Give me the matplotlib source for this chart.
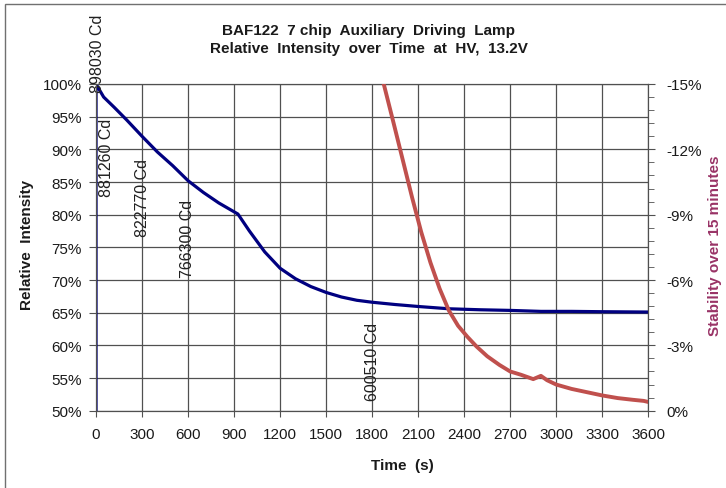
import matplotlib
matplotlib.use("Agg")
import matplotlib.pyplot as plt
from matplotlib.patches import Rectangle
from matplotlib.ticker import FuncFormatter, MultipleLocator

# relative intensity (%) over time (s)
time_int = [0, 0, 50, 120, 200, 300, 400, 500, 600, 700, 800, 925, 1000, 1100, 1200, 1300,
            1400, 1500, 1600, 1700, 1800, 1950, 2100, 2300, 2500, 2700, 2900, 3100, 3300, 3600]
intensity = [50, 100, 98.0, 96.4, 94.5, 92.0, 89.6, 87.5, 85.2, 83.4, 81.8, 80.1, 77.5, 74.3, 71.8, 70.2,
             69.0, 68.1, 67.4, 66.9, 66.6, 66.25, 65.95, 65.6, 65.45, 65.35, 65.2, 65.2, 65.15, 65.1]

# stability over 15 minutes (%)
time_stab = [1872, 1940, 2000, 2060, 2120, 2180, 2240, 2300, 2360, 2420, 2480, 2550, 2630,
             2700, 2770, 2850, 2900, 2940, 3000, 3100, 3200, 3300, 3400, 3500, 3570, 3600]
stability = [-15.1, -13.2, -11.5, -9.8, -8.2, -6.8, -5.6, -4.6, -3.9, -3.4, -2.95, -2.5, -2.1,
             -1.8, -1.65, -1.45, -1.6, -1.4, -1.2, -1.0, -0.85, -0.7, -0.58, -0.5, -0.45, -0.4]

# candela labels
cd_x = [10, 67, 300, 594, 1800]
cd_y = [98.8, 82.9, 76.7, 70.5, 51.7]
cd_text = ["898030 Cd", "881260 Cd", "822770 Cd", "766300 Cd", "600510 Cd"]

plt.rcParams['font.family'] = ['Liberation Sans', 'DejaVu Sans']
TXT = '#1a1a1a'
GRID = '#505050'

fig = plt.figure(figsize=(7.26, 4.89), dpi=100)
ax = fig.add_axes([96 / 726, 1 - 411.7 / 489, 552.3 / 726, 326.7 / 489])

ax.plot(time_int, intensity, color='#000080', lw=2.3, solid_joinstyle='round', zorder=3)
ax.set_xlim(0, 3600)
ax.set_ylim(50, 100)
ax.xaxis.set_major_locator(MultipleLocator(300))
ax.yaxis.set_major_locator(MultipleLocator(5))
ax.yaxis.set_major_formatter(FuncFormatter(lambda v, p: f"{v:.0f}%"))
ax.grid(True, color=GRID, lw=0.9)
ax.set_axisbelow(True)
ax.tick_params(axis='both', labelsize=11, labelcolor=TXT, color=GRID, direction='out')
ax.tick_params(axis='y', length=5, pad=5)
ax.tick_params(axis='x', length=4, pad=8)
for s in ax.spines.values():
    s.set_color(GRID)

for x, y, t in zip(cd_x, cd_y, cd_text):
    ax.text(x, y, t, rotation=90, ha='center', va='bottom', fontsize=11.5,
            color='#202020', clip_on=False, zorder=4)

ax2 = ax.twinx()
ax2.plot(time_stab, stability, color='#C0504D', lw=2.8, solid_joinstyle='round', zorder=3)
ax2.set_ylim(0, -15)
ax2.yaxis.set_major_locator(MultipleLocator(3))
ax2.yaxis.set_minor_locator(MultipleLocator(0.6))
ax2.yaxis.set_major_formatter(FuncFormatter(lambda v, p: f"{v:.0f}%"))
ax2.tick_params(axis='y', which='major', labelsize=11, labelcolor=TXT, color=GRID,
                direction='out', length=5, pad=8)
ax2.tick_params(axis='y', which='minor', color=GRID, direction='out', length=4)
for s in ax2.spines.values():
    s.set_color(GRID)

fig.text(369 / 726, 1 - 40 / 489, "BAF122  7 chip  Auxiliary  Driving  Lamp\nRelative  Intensity  over  Time  at  HV,  13.2V",
         ha='center', va='center', fontsize=11, fontweight='bold', color=TXT, linespacing=1.45)
fig.text(402 / 726, 1 - 466 / 489, "Time  (s)", ha='center', va='center',
         fontsize=11, fontweight='bold', color=TXT)
fig.text(27 / 726, 1 - 245 / 489, "Relative  Intensity", ha='center', va='center', rotation=90,
         fontsize=11, fontweight='bold', color=TXT)
fig.text(715 / 726, 1 - 246 / 489, "Stability over 15 minutes", ha='center', va='center',
         rotation=90, fontsize=11, fontweight='bold', color='#993366')

# chart area border
fig.patches.append(Rectangle((5 / 726, -0.05), 1.1, (484 / 489) + 0.05, transform=fig.transFigure,
                             fill=False, edgecolor='#707070', lw=1, figure=fig))

fig.savefig('out.png', dpi=100)
